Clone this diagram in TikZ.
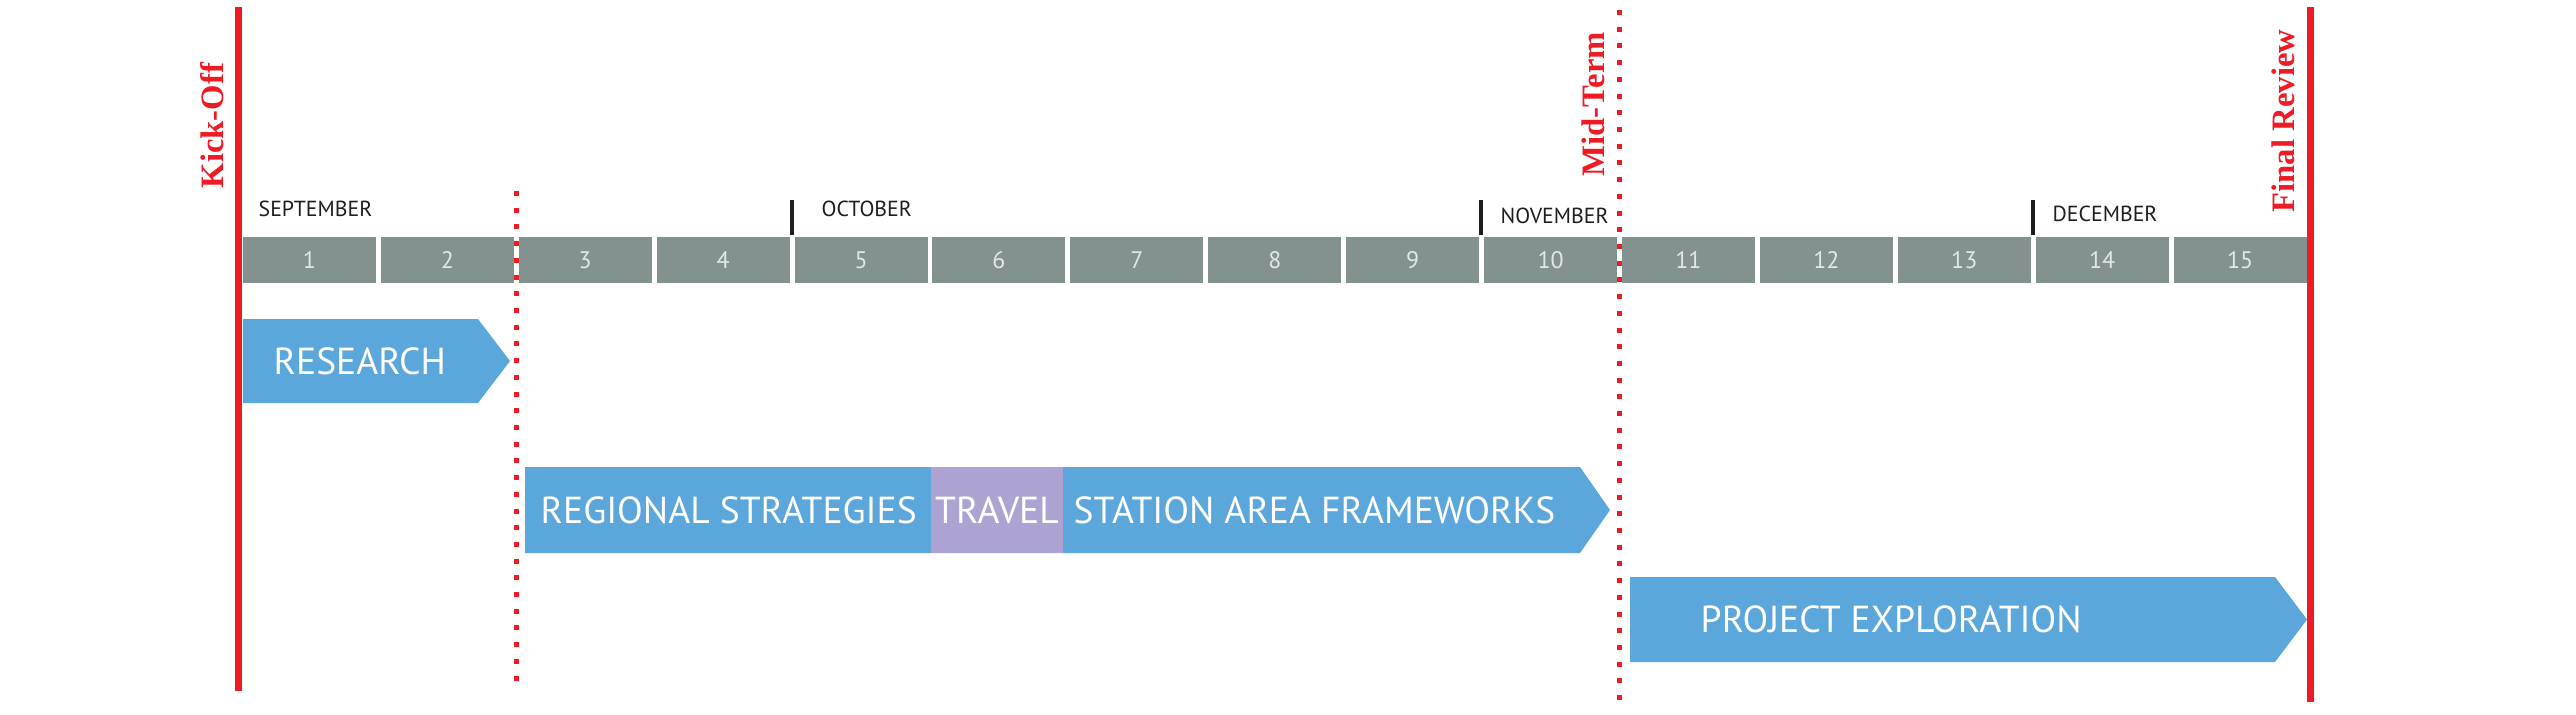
\documentclass[tikz,border=0pt]{standalone}
\usepackage{fontspec}
\setmainfont{PT Sans}
\newfontfamily\milefont{Liberation Serif}
\usetikzlibrary{positioning, calc}
\definecolor{milered}{RGB}{237,28,36}
\definecolor{weekgray}{RGB}{131,146,142}
\definecolor{weektext}{RGB}{226,231,231}
\definecolor{phaseblue}{RGB}{91,166,218}
\definecolor{travelpurple}{RGB}{172,163,210}
\definecolor{monthblack}{RGB}{30,30,30}

\begin{document}
\begin{tikzpicture}[x=0.01cm, y=-0.01cm,
    week/.style={rectangle, fill=weekgray, text=weektext, minimum width=1.329cm, minimum height=0.46cm, inner sep=0, font=\fontsize{6.8}{7}\selectfont},
    month/.style={anchor=west, inner sep=0, text=monthblack, font=\fontsize{6.2}{7}\selectfont},
    monthtick/.style={line width=0.04cm, monthblack},
    milestone/.style={line width=0.07cm, milered},
    gate/.style={line width=0.05cm, milered, dash pattern=on 0.05cm off 0.117cm},
    milelabel/.style={rotate=90, anchor=west, inner sep=0, text=milered, font=\milefont\bfseries\fontsize{9.3}{10}\selectfont},
    phase/.style={fill=phaseblue},
    phasetext/.style={anchor=west, inner sep=0, text=white, font=\fontsize{10.7}{12}\selectfont}]

    \useasboundingbox (0,0) rectangle (2576,714);

    % week strip
    \foreach \i in {1,...,15}
        \node [week] (w\i) at ({309.45+(\i-1)*137.9}, 260) {\i};

    % months
    \node [month] (september) at (258,209) {SEPTEMBER};
    \node [month] (october) at (821,209) {OCTOBER};
    \node [month] (november) at (1500,216) {NOVEMBER};
    \node [month] (december) at (2052,214) {DECEMBER};
    \draw [monthtick] ($(w5.north west)+(-2,-1)$) -- ++(0,-35);
    \draw [monthtick] ($(w10.north west)+(-2,-1)$) -- ++(0,-35);
    \draw [monthtick] ($(w14.north west)+(-2,-1)$) -- ++(0,-35);

    % phases
    \fill [phase] (243,319) -- (478,319) -- (510,361) -- (478,403) -- (243,403) -- cycle;
    \node [phasetext] (research) at (273,361) {RESEARCH};

    \fill [phase] (525,467) -- (1580,467) -- (1610,510) -- (1580,553) -- (525,553) -- cycle;
    \fill [travelpurple] (931,467) rectangle (1063,553);
    \node [phasetext] (regional) at (540,510) {REGIONAL STRATEGIES};
    \node [phasetext, anchor=center] (travel) at (997,510) {TRAVEL};
    \node [phasetext] (station) at (1073,510) {STATION AREA FRAMEWORKS};

    \fill [phase] (1630,577) -- (2275,577) -- (2307,619.5) -- (2275,662) -- (1630,662) -- cycle;
    \node [phasetext] (exploration) at (1700,619.5) {PROJECT EXPLORATION};

    % reviews
    \coordinate (kickTop) at ($(w1.west)+(-4,0)$);
    \coordinate (finalTop) at ($(w15.east)+(3,0)$);
    \coordinate (midX) at ($(w10.east)!0.5!(w11.west)$);
    \coordinate (sepX) at ($(w2.east)!0.5!(w3.west)$);
    \draw [milestone] (kickTop |- 0,7) -- (kickTop |- 0,691);
    \draw [milestone] (finalTop |- 0,7) -- (finalTop |- 0,702);
    \draw [gate] (midX |- 0,10) -- (midX |- 0,700);
    \draw [gate] (sepX |- 0,191) -- (sepX |- 0,690);
    \node [milelabel] (kickoff) at (212,189) {Kick-Off};
    \node [milelabel] (midterm) at (1593,177) {Mid-Term};
    \node [milelabel] (finalreview) at (2283,213) {Final Review};
\end{tikzpicture}
\end{document}
